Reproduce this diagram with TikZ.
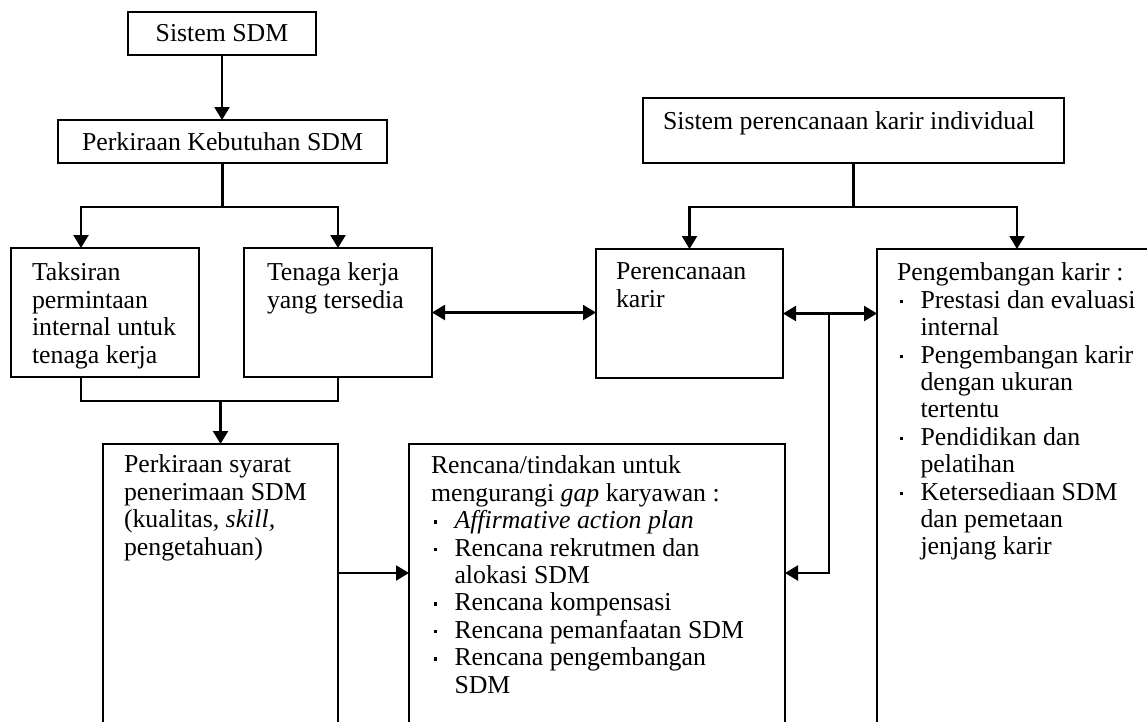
\documentclass[tikz,border=0pt]{standalone}
\usepackage{fontspec}
\setmainfont{Liberation Serif}
\usetikzlibrary{arrows.meta}
\newcommand{\fs}{\fontsize{25.8}{27.4}\selectfont}
\newcommand{\bul}{\makebox[23.5pt][l]{\hspace{2.5pt}\rule[5pt]{3.5pt}{3.5pt}}}
\newcommand{\ind}{\makebox[23.5pt]{}}
\tikzset{
  box/.style={draw, line width=2.6pt, rectangle, anchor=north west, inner sep=0pt, outer sep=0pt, font=\fs},
  txt/.style={anchor=north west, inner sep=0pt, outer sep=0pt, align=left, font=\fs},
  conn/.style={line width=2.2pt},
  arr/.style={conn, -{Triangle[length=13pt,width=15pt]}},
  darr/.style={conn, {Triangle[length=13pt,width=15pt]}-{Triangle[length=13pt,width=15pt]}}
}
\begin{document}
\begin{tikzpicture}[x=1pt,y=-1pt]
\useasboundingbox (0,0) rectangle (1147,721);
\clip (0,0) rectangle (1147,721);
\fill[white] (0,0) rectangle (1147,721);
% boxes
\node[box, minimum width=188pt, minimum height=43pt] (ssdm) at (128,12) {Sistem SDM};
\node[box, minimum width=329pt, minimum height=43pt] (pkb) at (58,120) {Perkiraan Kebutuhan SDM};
\node[box, minimum width=188pt, minimum height=129pt] (taks) at (11,248) {};
\node[box, minimum width=188pt, minimum height=129pt] (tng) at (244,248) {};
\node[box, minimum width=235pt, minimum height=330pt] (psy) at (103,444) {};
\node[box, minimum width=376pt, minimum height=330pt] (ren) at (409,444) {};
\node[box, minimum width=421pt, minimum height=65pt] (spk) at (643,98) {};
\node[box, minimum width=187pt, minimum height=129pt] (pk) at (596,249) {};
\node[box, minimum width=400pt, minimum height=500pt] (pgk) at (877,249) {};
% texts
\node[txt] (tTaks) at (32,261.8) {\strut Taksiran\\permintaan\\internal untuk\\tenaga kerja};
\node[txt] (tTng) at (267,261.8) {\strut Tenaga kerja\\yang tersedia};
\node[txt] (tPk) at (616,260.8) {\strut Perencanaan\\karir};
\node[txt] (tSpk) at (663,110.8) {\strut Sistem perencanaan karir individual};
\node[txt] (tPsy) at (124,453.8) {\strut Perkiraan syarat\\penerimaan SDM\\(kualitas, \textit{skill,}\\pengetahuan)};
\node[txt] (tRen) at (431,454.8) {\strut Rencana/tindakan untuk\\mengurangi \textit{gap} karyawan :\\\bul\textit{Affirmative action plan}\\\bul Rencana rekrutmen dan\\\ind alokasi SDM\\\bul Rencana kompensasi\\\bul Rencana pemanfaatan SDM\\\bul Rencana pengembangan\\\ind SDM};
\node[txt] (tPgk) at (897,261.8) {\strut Pengembangan karir :\\\bul Prestasi dan evaluasi\\\ind internal\\\bul Pengembangan karir\\\ind dengan ukuran\\\ind tertentu\\\bul Pendidikan dan\\\ind pelatihan\\\bul Ketersediaan SDM\\\ind dan pemetaan\\\ind jenjang karir};
% connectors left
\draw[arr] (ssdm.south) -- (ssdm.south |- pkb.north);
\coordinate (j1) at (222,207);
\draw[conn] (pkb.south) -- (pkb.south |- j1);
\draw[arr] (pkb.south |- j1) -| ([xshift=-24pt]taks.north);
\draw[arr] (pkb.south |- j1) -| (tng.north);
\coordinate (j2) at (221,401);
\draw[conn] ([xshift=-24pt]taks.south) |- (j2) -| (tng.south);
\draw[arr] (psy.north |- j2) -- (psy.north);
% connectors right
\coordinate (j3) at (853,207);
\draw[conn] (spk.south) -- (spk.south |- j3);
\draw[arr] (spk.south |- j3) -| (pk.north);
\draw[arr] (spk.south |- j3) -| ([xshift=140pt]pgk.north west);
\draw[darr] (tng.east) -- (tng.east -| pk.west);
\draw[darr] (pk.east) -- (pk.east -| pgk.west);
\coordinate (j4) at (829,573);
\draw[arr] (j4 |- pk.east) -- (j4) -- (j4 -| ren.east);
\draw[arr] (psy.east |- j4) -- (ren.west |- j4);
\end{tikzpicture}
\end{document}
